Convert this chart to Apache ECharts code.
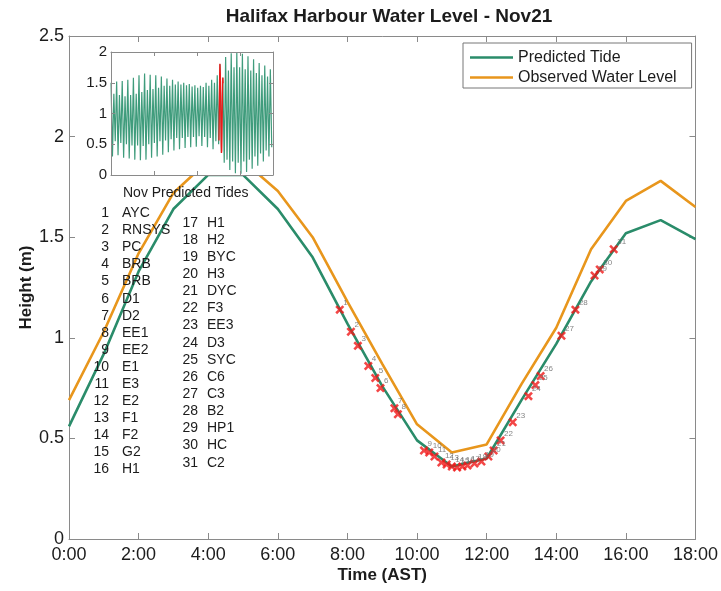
<!DOCTYPE html>
<html><head><meta charset="utf-8">
<script src="https://cdn.jsdelivr.net/npm/echarts@6/dist/echarts.min.js"></script>
<style>html,body{margin:0;padding:0;background:#fff}#c{width:721px;height:591px}</style>
</head><body><div id="c"></div>
<script>
// ---- Main chart data (hours of Nov 21, AST) ----
const hours = [0,1,2,3,4,5,6,7,8,9,10,11,12,13,14,15,16,17,18];
const predictedTide = [0.56,0.92,1.33,1.64,1.81,1.81,1.64,1.40,1.07,0.76,0.49,0.36,0.40,0.69,0.97,1.28,1.52,1.585,1.49];
const observedLevel = [0.69,1.03,1.42,1.72,1.88,1.88,1.73,1.50,1.18,0.87,0.57,0.43,0.47,0.77,1.05,1.44,1.68,1.78,1.65];
const xTickLabels = ['0:00','2:00','4:00','6:00','8:00','10:00','12:00','14:00','16:00','18:00'];

// ---- Station measurements (time, height) ----
const stationTimes = [7.78,8.10,8.30,8.60,8.80,8.95,9.35,9.45,10.20,10.35,10.50,10.70,10.85,11.00,11.15,11.30,11.45,11.65,11.85,12.05,12.20,12.40,12.75,13.20,13.40,13.55,14.15,14.55,15.10,15.25,15.65];
const stationHeights = [1.14,1.03,0.96,0.86,0.80,0.75,0.65,0.62,0.44,0.43,0.41,0.38,0.37,0.36,0.355,0.36,0.365,0.375,0.385,0.41,0.44,0.49,0.58,0.71,0.765,0.81,1.01,1.14,1.31,1.34,1.44];
const stationNames = ['AYC','RNSYS','PC','BRB','BRB','D1','D2','EE1','EE2','E1','E3','E2','F1','F2','G2','H1','H1','H2','BYC','H3','DYC','F3','EE3','D3','SYC','C6','C3','B2','HP1','HC','C2'];

// ---- Inset: November predicted tides (successive high / low waters) ----
const insetHighs = [1.50,1.32,1.52,1.30,1.53,1.28,1.55,1.30,1.58,1.32,1.62,1.35,1.65,1.38,1.63,1.40,1.62,1.42,1.60,1.45,1.57,1.45,1.55,1.47,1.52,1.47,1.50,1.46,1.48,1.44,1.46,1.42,1.45,1.43,1.50,1.45,1.55,1.50,1.62,1.80,1.58,1.92,1.70,1.98,1.75,2.00,1.75,1.97,1.72,1.93,1.70,1.88,1.66,1.82,1.62,1.78,1.60,1.72];
const insetLows  = [0.30,0.55,0.32,0.52,0.28,0.50,0.27,0.48,0.25,0.48,0.24,0.47,0.25,0.50,0.28,0.52,0.30,0.55,0.33,0.56,0.37,0.58,0.40,0.60,0.42,0.60,0.44,0.62,0.45,0.62,0.46,0.63,0.47,0.62,0.45,0.60,0.42,0.55,0.50,0.36,0.20,0.25,0.08,0.22,0.03,0.20,0.02,0.22,0.05,0.25,0.10,0.30,0.15,0.35,0.22,0.40,0.30,0.45];
const tidalPeriodDays = 0.5175;
const firstHighDay = 0.01;
const highlightDay = 20; // Nov 21 (day index from Nov 1)

const GREEN = '#2a8c6a', ORANGE = '#e8961c', RED = '#f01818', AX = '#8a8a8a', TXT = '#1c1c1c';
const FONT = '"Liberation Sans", Arial, sans-serif';

const insetData = [];
insetHighs.forEach((h, i) => {
  const t = firstHighDay + i * tidalPeriodDays;
  insetData.push([t, h]);
  insetData.push([t + tidalPeriodDays / 2, insetLows[i]]);
});
const insetRed = hours.map((h, i) => [highlightDay + h / 24, predictedTide[i]]);

const chart = echarts.init(document.getElementById('c'), null, {renderer: 'canvas'});

const mainGrid = {left: 69, top: 36, width: 629, height: 503};
const insetGrid = {left: 111, top: 52, width: 162, height: 123};

const tickInside = (len) => ({show: true, inside: true, length: len, lineStyle: {color: AX, width: 1}});
const axLine = {show: true, onZero: false, lineStyle: {color: AX, width: 1}};

const graphics = [
  {type: 'rect', shape: {x: insetGrid.left, y: insetGrid.top, width: insetGrid.width, height: insetGrid.height}, style: {fill: '#fff'}, z: 3, silent: true},
  {type: 'text', x: 123, y: 193, z: 6, style: {text: 'Nov Predicted Tides', font: '14px ' + FONT, fill: TXT, textVerticalAlign: 'middle'}}
];
stationNames.forEach((name, i) => {
  let nx, tx, y;
  if (i < 16) { nx = 109; tx = 122; y = 213.3 + i * 17.07; }
  else { nx = 198; tx = 207; y = 222.7 + (i - 16) * 17.14; }
  graphics.push({type: 'text', x: nx, y: y, z: 6, style: {text: String(i + 1), font: '14px ' + FONT, fill: TXT, textAlign: 'right', textVerticalAlign: 'middle'}});
  graphics.push({type: 'text', x: tx, y: y, z: 6, style: {text: name, font: '14px ' + FONT, fill: TXT, textAlign: 'left', textVerticalAlign: 'middle'}});
});

const xSymbol = 'path://M0,2 L2,0 L5,3 L8,0 L10,2 L7,5 L10,8 L8,10 L5,7 L2,10 L0,8 L3,5 Z';

chart.setOption({
  animation: false,
  backgroundColor: '#fff',
  textStyle: {fontFamily: FONT},
  title: {
    text: 'Halifax Harbour Water Level - Nov21',
    left: 384, textAlign: 'center', top: 2,
    textStyle: {fontSize: 19, fontWeight: 'bold', color: TXT, fontFamily: FONT}
  },
  legend: {
    orient: 'vertical', left: 463, top: 43,
    data: [{name: 'Predicted Tide', icon: 'rect'}, {name: 'Observed Water Level', icon: 'rect'}],
    itemWidth: 43, itemHeight: 2.5, itemGap: 3,
    padding: [6, 15, 2, 7],
    borderColor: '#777', borderWidth: 1, backgroundColor: '#fff',
    textStyle: {fontSize: 16, color: TXT, fontFamily: FONT, lineHeight: 17},
    z: 7
  },
  grid: [
    Object.assign({}, mainGrid, {containLabel: false}),
    Object.assign({}, insetGrid, {containLabel: false})
  ],
  xAxis: [
    {type: 'value', gridIndex: 0, min: 0, max: 18, interval: 2, position: 'bottom',
     axisLine: axLine, axisTick: tickInside(6), splitLine: {show: false},
     axisLabel: {fontSize: 18, color: TXT, margin: 7, formatter: v => xTickLabels[Math.round(v / 2)]},
     name: 'Time (AST)', nameLocation: 'middle', nameGap: 28, nameMoveOverlap: false,
     nameTextStyle: {fontSize: 17, fontWeight: 'bold', color: TXT}},
    {type: 'value', gridIndex: 0, min: 0, max: 18, interval: 2, position: 'top',
     axisLine: axLine, axisTick: tickInside(6), splitLine: {show: false}, axisLabel: {show: false}},
    {type: 'value', gridIndex: 1, min: 0, max: 30, interval: 8, position: 'bottom', z: 5,
     axisLine: axLine, axisTick: tickInside(4), splitLine: {show: false}, axisLabel: {show: false}},
    {type: 'value', gridIndex: 1, min: 0, max: 30, interval: 8, position: 'top', z: 5,
     axisLine: axLine, axisTick: tickInside(4), splitLine: {show: false}, axisLabel: {show: false}}
  ],
  yAxis: [
    {type: 'value', gridIndex: 0, min: 0, max: 2.5, interval: 0.5, position: 'left',
     axisLine: axLine, axisTick: tickInside(6), splitLine: {show: false},
     axisLabel: {fontSize: 18, color: TXT, margin: 5},
     name: 'Height (m)', nameLocation: 'middle', nameGap: 34, nameRotate: 90, nameMoveOverlap: false,
     nameTextStyle: {fontSize: 17, fontWeight: 'bold', color: TXT}},
    {type: 'value', gridIndex: 0, min: 0, max: 2.5, interval: 0.5, position: 'right',
     axisLine: axLine, axisTick: tickInside(6), splitLine: {show: false}, axisLabel: {show: false}},
    {type: 'value', gridIndex: 1, min: 0, max: 2, interval: 0.5, position: 'left', z: 5,
     axisLine: axLine, axisTick: tickInside(4), splitLine: {show: false},
     axisLabel: {fontSize: 15, color: TXT, margin: 4}},
    {type: 'value', gridIndex: 1, min: 0, max: 2, interval: 0.5, position: 'right', z: 5,
     axisLine: axLine, axisTick: tickInside(4), splitLine: {show: false}, axisLabel: {show: false}}
  ],
  series: [
    {name: 'Observed Water Level', type: 'line', xAxisIndex: 0, yAxisIndex: 0, z: 2,
     data: hours.map((h, i) => [h, observedLevel[i]]), showSymbol: false,
     lineStyle: {color: ORANGE, width: 2.6}, itemStyle: {color: ORANGE}},
    {name: 'Predicted Tide', type: 'line', xAxisIndex: 0, yAxisIndex: 0, z: 2,
     data: hours.map((h, i) => [h, predictedTide[i]]), showSymbol: false,
     lineStyle: {color: GREEN, width: 2.6}, itemStyle: {color: GREEN}},
    {name: 'Stations', type: 'scatter', xAxisIndex: 0, yAxisIndex: 0, z: 2,
     data: stationTimes.map((t, i) => [t, stationHeights[i]]),
     symbol: xSymbol, symbolSize: 9, itemStyle: {color: RED},
     label: {show: true, position: 'right', distance: 0, offset: [-1, -7], fontSize: 8, color: '#666',
             formatter: p => String(p.dataIndex + 1)}},
    {name: 'Nov tides', type: 'line', xAxisIndex: 2, yAxisIndex: 2, z: 4,
     data: insetData, showSymbol: false, lineStyle: {color: '#3f9c7c', width: 1.2}},
    {name: 'Nov21', type: 'line', xAxisIndex: 2, yAxisIndex: 2, z: 4,
     data: insetRed, showSymbol: false, lineStyle: {color: RED, width: 1.3}}
  ],
  graphic: graphics
});
</script>
</body></html>
